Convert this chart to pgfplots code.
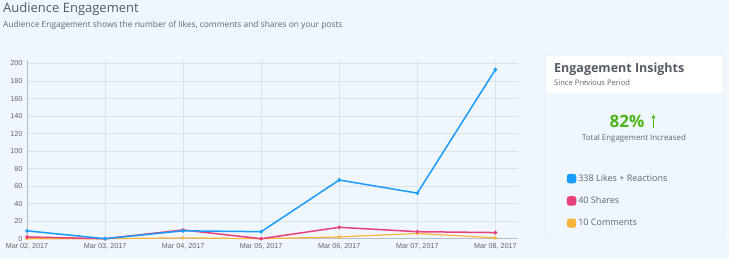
\documentclass[border=0pt]{standalone}
\usepackage{fontspec}
\setmainfont{Open Sans}
\newfontfamily\arialfont{Liberation Sans}
\usepackage{pgfplots}
\pgfplotsset{compat=1.18}
\usetikzlibrary{arrows.meta}

\definecolor{bg}{HTML}{EFF6FE}
\definecolor{titlegray}{HTML}{555B66}
\definecolor{textgray}{HTML}{5F6670}
\definecolor{tickgray}{HTML}{666666}
\definecolor{gridgray}{HTML}{DCE2EA}
\definecolor{axisgray}{HTML}{B8BEC6}
\definecolor{panelborder}{HTML}{DCE3EC}
\definecolor{likes}{HTML}{1A9CFB}
\definecolor{shares}{HTML}{E8407A}
\definecolor{comments}{HTML}{F9B53B}
\definecolor{upgreen}{HTML}{4DB616}

\begin{document}
\begin{tikzpicture}[x=1pt,y=1pt]
\path[use as bounding box, fill=bg] (0,0) rectangle (729,258);

% heading
\node[anchor=base west, inner sep=0, text=titlegray, font=\fontsize{13}{15}\selectfont] at (3,245.5) {Audience Engagement};
\node[anchor=base west, inner sep=0, text=textgray, font=\fontsize{8.4}{10}\selectfont] at (3,231) {Audience Engagement shows the number of likes, comments and shares on your posts};

% insights card
\draw[panelborder, fill=bg, rounded corners=2pt] (545,19) rectangle (724,203);
\fill[white] (545.6,165) rectangle (723.4,202.4);
\node[anchor=base west, inner sep=0, text=titlegray, font=\fontsize{12.5}{14}\selectfont\bfseries] at (554,185.5) {Engagement Insights};
\node[anchor=base west, inner sep=0, text=textgray, font=\fontsize{7.6}{9}\selectfont] at (554,173) {Since Previous Period};
\node[anchor=base, inner sep=0, text=upgreen, font=\fontsize{17}{19}\selectfont\bfseries] at (627,131) {82\%};
\draw[upgreen, line width=1.3pt, -{Stealth[length=4pt,width=4pt]}] (653.5,130) -- (653.5,143.5);
\node[anchor=base, inner sep=0, text=textgray, font=\fontsize{7.9}{9}\selectfont] at (634,117.5) {Total Engagement Increased};

\begin{axis}[
  at={(27pt,19.3pt)}, anchor=south west,
  scale only axis, width=491pt, height=178.7pt,
  xmin=0, xmax=6.29, ymin=0, ymax=204,
  clip=false,
  axis lines*=left,
  axis line style={draw=axisgray, line width=0.6pt},
  grid=major,
  grid style={draw=gridgray, line width=0.5pt},
  major tick length=0pt,
  xtick={0,1,2,3,4,5,6},
  xticklabels={{Mar 02, 2017},{Mar 03, 2017},{Mar 04, 2017},{Mar 05, 2017},{Mar 06, 2017},{Mar 07, 2017},{Mar 08, 2017}},
  ytick={0,20,...,200},
  /pgf/number format/assume math mode=true,
  tick label style={font=\arialfont\fontsize{7.2}{8}\selectfont, text=tickgray},
  xticklabel style={yshift=-1pt},
  yticklabel style={xshift=-1pt},
  legend image code/.code={\fill[#1, rounded corners=2pt] (-4pt,-4pt) rectangle (4pt,4pt);},
  reverse legend,
  legend cell align=left,
  legend style={at={(1.099,0.372)}, anchor=north west, draw=none, fill=none,
    inner sep=0pt, row sep=10pt, text=textgray,
    font=\fontsize{9}{10}\selectfont},
]
\addplot[comments, line width=1.2pt, mark=*, mark size=1pt]
  coordinates {(0,0) (1,0) (2,1) (3,0) (4,2) (5,6) (6,1)};
\addplot[shares, line width=1.5pt, mark=*, mark size=1pt]
  coordinates {(0,2) (1,0) (2,10) (3,0) (4,13) (5,8) (6,7)};
\addplot[likes, line width=1.5pt, mark=*, mark size=1pt]
  coordinates {(0,9) (1,0) (2,9) (3,8) (4,67) (5,52) (6,193)};
\legend{10 Comments, 40 Shares, 338 Likes + Reactions}
\end{axis}
\end{tikzpicture}
\end{document}
